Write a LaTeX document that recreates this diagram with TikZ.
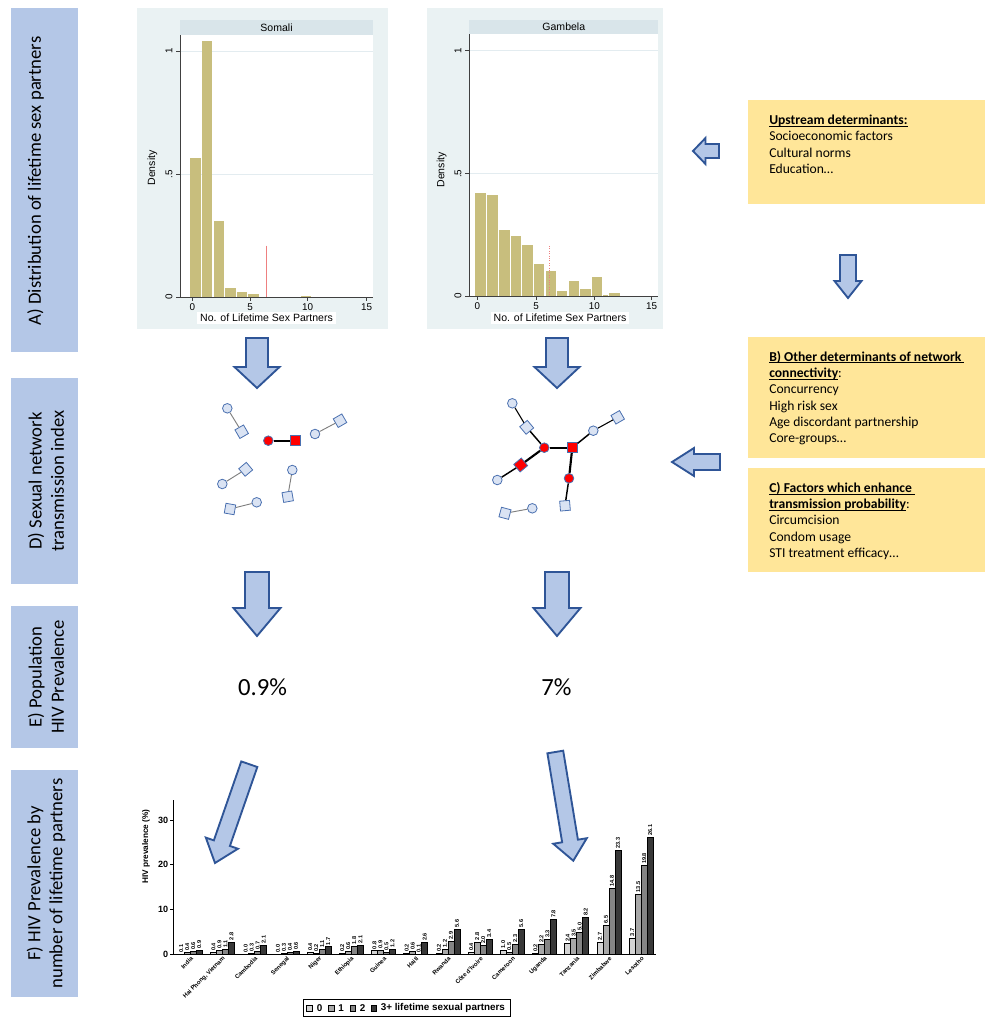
\documentclass[tikz,border=0pt]{standalone}
\usepackage{fontspec}
\setmainfont{Carlito}
\newfontfamily\arialf{Liberation Sans}
\usetikzlibrary{calc}
\definecolor{lblue}{HTML}{B4C7E7}
\definecolor{arrowdark}{HTML}{2F5597}
\definecolor{ybox}{HTML}{FFE699}
\definecolor{histbg}{HTML}{EAF2F3}
\definecolor{stripc}{HTML}{D9E5EA}
\definecolor{gridc}{HTML}{E3ECF0}
\definecolor{barc}{RGB}{200,190,125}
\definecolor{redline}{HTML}{EE8080}
\definecolor{nfill}{HTML}{DAE3F3}
\definecolor{nborder}{HTML}{4A70B0}
\definecolor{hb0}{HTML}{D4D4D4}
\definecolor{hb1}{HTML}{A8A8A8}
\definecolor{hb2}{HTML}{858585}
\definecolor{hb3}{HTML}{383838}
\newcommand\fixul[1]{\setbox0\hbox{#1}\rlap{\rule[-1.5pt]{\wd0}{0.6pt}}\box0}
\tikzset{
  blockarr/.style={draw=arrowdark, fill=lblue, line width=1.4pt, line join=miter},
  lbltxt/.style={font=\fontsize{14}{16.6}\selectfont, align=center, inner sep=0pt},
  ytxt/.style={font=\fontsize{10.2}{12.2}\selectfont, anchor=base west, inner sep=0pt},
  histtxt/.style={font=\arialf\fontsize{7.9}{9}\selectfont, inner sep=0.5pt},
  ticktxt/.style={font=\arialf\fontsize{7.4}{8}\selectfont, inner sep=0pt},
  axisl/.style={draw=black!75, line width=0.45pt},
  ncirc/.style={circle, draw=nborder, fill=nfill, line width=0.6pt, minimum size=7.2pt, inner sep=0pt},
  nsq/.style={rectangle, draw=nborder, fill=nfill, line width=0.6pt, minimum size=7.4pt, inner sep=0pt},
  rcirc/.style={ncirc, fill=red},
  rsq/.style={nsq, fill=red},
  grayedge/.style={draw=black!50, line width=0.7pt},
  thinedge/.style={draw=black, line width=0.8pt},
  midedge/.style={draw=black, line width=1.1pt},
  thickedge/.style={draw=black, line width=1.6pt},
  barline/.style={draw=black, line width=0.35pt},
  vallab/.style={font=\arialf\bfseries\fontsize{4.2}{5}\selectfont, rotate=90, anchor=west, inner sep=0.3pt},
  ctylab/.style={font=\arialf\bfseries\fontsize{4.5}{5}\selectfont, rotate=45, anchor=east, inner sep=0.2pt},
  chtxt/.style={font=\arialf\bfseries\fontsize{6.8}{8}\selectfont, inner sep=0pt},
  legtxt/.style={font=\arialf\bfseries\fontsize{7.4}{8}\selectfont, anchor=west, inner sep=0pt},
}
% tail x, tail y, tip x, tip y, shaft half width, head half width, head length (px)
\newcommand\blockarrow[7]{%
  \path (#1,#2) coordinate (ba-A) (#3,#4) coordinate (ba-B);
  \path ($(ba-B)!#7*0.75pt!(ba-A)$) coordinate (ba-H);
  \draw[blockarr] ($(ba-A)!#5*0.75pt!90:(ba-B)$) -- ($(ba-H)!#5*0.75pt!90:(ba-B)$)
     -- ($(ba-H)!#6*0.75pt!90:(ba-B)$) -- (ba-B) -- ($(ba-H)!#6*0.75pt!-90:(ba-B)$)
     -- ($(ba-H)!#5*0.75pt!-90:(ba-B)$) -- ($(ba-A)!#5*0.75pt!-90:(ba-B)$) -- cycle;
}
\newcommand\hivbar[4]{% x-left, value, colour, name
  \pgfmathsetmacro\hivtop{954.3-4.48*#2}
  \draw[barline, fill=#3] (#1,954.3) rectangle (#1+6,\hivtop);
  \node[vallab] (#4) at (#1+3,\hivtop-1) {#2};
}
\begin{document}
\begin{tikzpicture}[x=0.75pt, y=-0.75pt]
\useasboundingbox (0,0) rectangle (1000,1029);
\fill[white] (0,0) rectangle (1000,1029);

% ---------- left label boxes ----------
\fill[lblue] (11,8) rectangle (78,352);
\fill[lblue] (11,378) rectangle (78,584);
\fill[lblue] (11,606) rectangle (78,748);
\fill[lblue] (11,770) rectangle (78,997);
\node[lbltxt, rotate=90] (labA) at (35.5,181) {A) Distribution of lifetime sex partners};
\node[lbltxt, rotate=90] (labD) at (46,481) {D) Sexual network\\transmission index};
\node[lbltxt, rotate=90] (labE) at (46,677) {E) Population\\HIV Prevalence};
\node[lbltxt, rotate=90] (labF) at (46,883.5) {F) HIV Prevalence by\\number of lifetime partners};

% ---------- left histogram (Somali) ----------
\fill[histbg] (137,8) rectangle (388,329);
\fill[white] (180,35) rectangle (373,297);
\fill[stripc] (180,20) rectangle (373,35);
\node[histtxt] (somali) at (276.5,27.5) {Somali};
\draw[gridc, line width=0.5pt] (180,51) -- (373,51) (180,174) -- (373,174);
\fill[barc] (190,158.3) rectangle (200.7,297);
\fill[barc] (201.7,41) rectangle (212.3,297);
\fill[barc] (213.7,221) rectangle (223.7,297);
\fill[barc] (224.7,288.3) rectangle (235.5,297);
\fill[barc] (236.5,291.7) rectangle (247,297);
\fill[barc] (248,294) rectangle (258.7,297);
\fill[barc] (300.7,295.7) rectangle (311,297);
\draw[redline, line width=0.6pt] (266,245.7) -- (266,297);
\draw[axisl] (180,35) -- (180,297) -- (373,297);
\draw[axisl] (176,51) -- (180,51) (176,174) -- (180,174) (176,297) -- (180,297);
\draw[axisl] (192.3,297) -- (192.3,301) (250,297) -- (250,301) (307.7,297) -- (307.7,301) (366.7,297) -- (366.7,301);
\node[ticktxt, rotate=90] (sy1) at (169,51) {1};
\node[ticktxt, rotate=90] (sy5) at (169,174) {.5};
\node[ticktxt, rotate=90] (sy0) at (169,297) {0};
\node[ticktxt] (sx0) at (192.3,307) {0};
\node[ticktxt] (sx5) at (250,307) {5};
\node[ticktxt] (sx10) at (307.7,307) {10};
\node[ticktxt] (sx15) at (366.7,307) {15};
\node[histtxt, rotate=90] (sdens) at (152.5,168) {Density};
\node[histtxt, fill=white, inner xsep=2pt, inner ysep=1.5pt] (sxt) at (266.5,318) {No. of Lifetime Sex Partners};

% ---------- right histogram (Gambela) ----------
\fill[histbg] (427,8) rectangle (663,329);
\fill[white] (469.3,34.3) rectangle (658.3,296);
\fill[stripc] (469.3,20) rectangle (658.3,34.3);
\node[histtxt] (gambela) at (563.8,27) {Gambela};
\draw[gridc, line width=0.5pt] (469.3,50.3) -- (658.3,50.3) (469.3,173.7) -- (658.3,173.7);
\fill[barc] (475,193.3) rectangle (486,296);
\fill[barc] (487,194.7) rectangle (497.7,296);
\fill[barc] (499,230) rectangle (509.7,296);
\fill[barc] (510.7,236) rectangle (521.3,296);
\fill[barc] (522.3,245) rectangle (532.7,296);
\fill[barc] (534,264.3) rectangle (544.3,296);
\fill[barc] (545.5,270.7) rectangle (556,296);
\fill[barc] (557,291) rectangle (567.3,296);
\fill[barc] (568.7,280.7) rectangle (579,296);
\fill[barc] (580.3,288.7) rectangle (590.7,296);
\fill[barc] (592,277.3) rectangle (602.3,296);
\fill[barc] (603.3,294.8) rectangle (608.3,296);
\fill[barc] (609.3,293) rectangle (620,296);
\draw[redline, line width=0.8pt, densely dotted] (549.3,246) -- (549.3,296);
\draw[axisl] (469.3,34.3) -- (469.3,296) -- (658.3,296);
\draw[axisl] (465.3,50.3) -- (469.3,50.3) (465.3,173.7) -- (469.3,173.7) (465.3,296) -- (469.3,296);
\draw[axisl] (477.3,296) -- (477.3,300) (536,296) -- (536,300) (594.3,296) -- (594.3,300) (651.7,296) -- (651.7,300);
\node[ticktxt, rotate=90] (gy1) at (458,50.3) {1};
\node[ticktxt, rotate=90] (gy5) at (458,173.7) {.5};
\node[ticktxt, rotate=90] (gy0) at (458,296) {0};
\node[ticktxt] (gx0) at (477.3,306.5) {0};
\node[ticktxt] (gx5) at (536,306.5) {5};
\node[ticktxt] (gx10) at (594.3,306.5) {10};
\node[ticktxt] (gx15) at (651.7,306.5) {15};
\node[histtxt, rotate=90] (gdens) at (441.7,170) {Density};
\node[histtxt, fill=white, inner xsep=2pt, inner ysep=1.5pt] (gxt) at (560,318) {No. of Lifetime Sex Partners};

% ---------- yellow boxes ----------
\fill[ybox] (748.3,100) rectangle (985,204.3);
\node[ytxt] (u1) at (769,124.4) {\fixul{\textbf{Upstream determinants:}}};
\node[ytxt] (u2) at (769,140.7) {Socioeconomic factors};
\node[ytxt] (u3) at (769,157) {Cultural norms};
\node[ytxt] (u4) at (769,173.3) {Education\dots};

\fill[ybox] (748.3,336.7) rectangle (985,458.3);
\node[ytxt] (b1) at (769,361) {\fixul{\textbf{B) Other determinants of network\ }}};
\node[ytxt] (b2) at (769,377.4) {\fixul{\textbf{connectivity}}:};
\node[ytxt] (b3) at (769,393.6) {Concurrency};
\node[ytxt] (b4) at (769,410) {High risk sex};
\node[ytxt] (b5) at (769,426.4) {Age discordant partnership};
\node[ytxt] (b6) at (769,442.8) {Core-groups\dots};

\fill[ybox] (748.3,468.3) rectangle (985,572.3);
\node[ytxt] (c1) at (769,492.6) {\fixul{\textbf{C) Factors which enhance\ }}};
\node[ytxt] (c2) at (769,508.8) {\fixul{\textbf{transmission probability}}:};
\node[ytxt] (c3) at (769,524.6) {Circumcision};
\node[ytxt] (c4) at (769,541) {Condom usage};
\node[ytxt] (c5) at (769,557.4) {STI treatment efficacy\dots};

% ---------- block arrows ----------
\blockarrow{257}{338}{257}{388}{11}{22.5}{21}
\blockarrow{557}{338}{557}{388}{11}{22.5}{21}
\blockarrow{257}{572}{257}{636}{12}{23.5}{28}
\blockarrow{557}{572}{557}{636}{12}{23.5}{28}
\blockarrow{719}{151}{693}{151}{7}{13}{12.5}
\blockarrow{848}{255}{848}{298}{8}{13.5}{17}
\blockarrow{720}{462}{672}{462}{8}{14}{22}
\blockarrow{249.3}{764.2}{215}{863}{8.5}{17}{21}
\blockarrow{555.3}{752}{573.3}{860.7}{8}{17}{20}

% ---------- left network ----------
\node[ncirc] (L1c) at (227.3,408.3) {};
\node[nsq, rotate=30] (L1s) at (241.7,431.7) {};
\node[rcirc] (LRc) at (268.3,440.7) {};
\node[rsq] (LRs) at (295.7,440.7) {};
\node[ncirc] (L3c) at (315,434) {};
\node[nsq, rotate=30] (L3s) at (340,420.7) {};
\node[nsq, rotate=40] (L4s) at (245.7,469.3) {};
\node[ncirc] (L4c) at (222.3,484) {};
\node[ncirc] (L5c) at (292.3,470) {};
\node[nsq, rotate=10] (L5s) at (287.7,496.7) {};
\node[nsq, rotate=-10] (L6s) at (230,509) {};
\node[ncirc] (L6c) at (256.7,502.3) {};
\draw[grayedge] (L1c) -- (L1s);
\draw[thickedge] (LRc) -- (LRs);
\draw[grayedge] (L3c) -- (L3s);
\draw[grayedge] (L4s) -- (L4c);
\draw[grayedge] (L5c) -- (L5s);
\draw[grayedge] (L6s) -- (L6c);

% ---------- right network ----------
\node[ncirc] (Rc1) at (512.3,403.3) {};
\node[nsq, rotate=40] (Rs1) at (526.7,427.3) {};
\node[rcirc] (RR1) at (544.3,447.7) {};
\node[rsq] (RR2) at (572.3,447.7) {};
\node[ncirc] (Rc2) at (593.3,430.7) {};
\node[nsq, rotate=30] (Rs2) at (617.7,417.3) {};
\node[rsq, rotate=40] (RR3) at (520.7,465) {};
\node[ncirc] (Rc3) at (497.3,480) {};
\node[rcirc] (RR4) at (569,478.3) {};
\node[nsq, rotate=5] (Rs3) at (565,505.7) {};
\node[nsq, rotate=-15] (Rs4) at (505,513.3) {};
\node[ncirc] (Rc4) at (532.3,508.3) {};
\draw[thinedge] (Rc1) -- (Rs1);
\draw[midedge] (Rs1) -- (RR1);
\draw[thickedge] (RR1) -- (RR2);
\draw[midedge] (RR2) -- (Rc2);
\draw[thinedge] (Rc2) -- (Rs2);
\draw[thickedge] (RR1) -- (RR3);
\draw[midedge] (RR3) -- (Rc3);
\draw[thickedge] (RR2) -- (RR4);
\draw[midedge] (RR4) -- (Rs3);
\draw[grayedge] (Rs4) -- (Rc4);

% ---------- prevalence numbers ----------
\node[font=\fontsize{18.5}{22}\selectfont, inner sep=0pt] (p1) at (262.5,687) {0.9\%};
\node[font=\fontsize{18.5}{22}\selectfont, inner sep=0pt] (p2) at (556.5,687) {7\%};

% ---------- bar chart ----------
\foreach \k/\a/\b/\c/\d/\nm in {
  0/0.1/0.4/0.6/0.9/India,
  1/0.4/0.9/1.1/2.8/{Hai Phong, Vietnam},
  2/0.0/0.3/0.7/2.1/Cambodia,
  3/0.0/0.3/0.4/0.6/Senegal,
  4/0.4/0.2/1.1/1.7/Niger,
  5/0.2/0.6/1.8/2.1/Ethiopia,
  6/0.8/0.9/0.5/1.2/Guinea,
  7/0.2/0.6/0.1/2.6/Haiti,
  8/0.2/1.2/2.9/5.6/Rwanda,
  9/0.4/2.8/2.0/3.4/{Côte d'Ivoire},
  10/1.0/0.5/2.3/5.6/Cameroon,
  11/0.2/2.2/3.3/7.8/Uganda,
  12/2.4/3.5/5.0/8.2/Tanzania,
  13/2.7/6.5/14.8/23.3/Zimbabwe,
  14/3.7/13.5/19.8/26.1/Lesotho}{
  \pgfmathsetmacro\s{178.3+32.2*\k}
  \hivbar{\s}{\a}{hb0}{va\k}
  \hivbar{\s+6}{\b}{hb1}{vb\k}
  \hivbar{\s+12}{\c}{hb2}{vc\k}
  \hivbar{\s+18}{\d}{hb3}{vd\k}
  \node[ctylab] (cty\k) at (\s+14,957.5) {\nm};
}
\draw[axisl, draw=black, line width=0.6pt] (173.3,800) -- (173.3,954.3) -- (656,954.3);
\foreach \v/\yy in {0/954.3,10/909.5,20/864.7,30/819.9}{
  \draw[black, line width=0.5pt] (170.3,\yy) -- (173.3,\yy);
  \node[chtxt, anchor=east] (yt\v) at (168.5,\yy) {\v};
}
\node[chtxt, rotate=90, font=\arialf\bfseries\fontsize{6.2}{7}\selectfont] (ytitle) at (146,846.7) {HIV prevalence (\%)};
% legend
\draw[black, line width=0.6pt, fill=white] (303.3,999.3) rectangle (510,1016.7);
\draw[barline, fill=hb0] (306.7,1005.3) rectangle (312.3,1011.3);
\node[legtxt] (lg0) at (316.5,1008.3) {0};
\draw[barline, fill=hb1] (328.3,1005.3) rectangle (334,1011.3);
\node[legtxt] (lg1) at (338,1008.3) {1};
\draw[barline, fill=hb2] (350,1005.3) rectangle (355.7,1011.3);
\node[legtxt] (lg2) at (359.5,1008.3) {2};
\draw[barline, fill=hb3] (371,1005.3) rectangle (376.7,1011.3);
\node[legtxt] (lg3) at (380.5,1008.3) {3+ lifetime sexual partners};
\end{tikzpicture}
\end{document}
